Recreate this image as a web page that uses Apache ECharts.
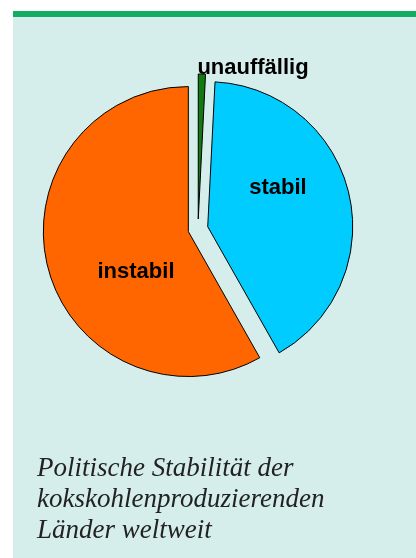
<!DOCTYPE html>
<html>
<head>
<meta charset="utf-8">
<script src="https://cdn.jsdelivr.net/npm/echarts@6/dist/echarts.min.js"></script>
<style>
html,body{margin:0;padding:0;background:#fff;}
#c{width:416px;height:558px;}
</style>
</head>
<body>
<div id="c"></div>
<script>
// Data
var categories = ['unauffällig', 'stabil', 'instabil'];
var values = [0.8, 41, 58.2];
var colors = ['#117a11', '#00ccff', '#ff6600'];
var caption = 'Politische Stabilität der\nkokskohlenproduzierenden\nLänder weltweit';

// label placement (layout only)
var labelPos = [[253, 68], [278, 188], [136, 272]];

var chart = echarts.init(document.getElementById('c'), null, {renderer: 'canvas'});
var data = categories.map(function (n, i) {
  return { name: n, value: values[i], selected: true, itemStyle: { color: colors[i] } };
});
var labelGraphics = categories.map(function (n, i) {
  return {
    type: 'text',
    x: labelPos[i][0],
    y: labelPos[i][1],
    z: 100,
    style: {
      text: n,
      fill: '#000000',
      font: 'bold 22px "Liberation Sans", Arial, sans-serif',
      textAlign: 'center',
      textVerticalAlign: 'middle'
    }
  };
});
chart.setOption({
  animation: false,
  backgroundColor: '#ffffff',
  graphic: [
    { type: 'rect', left: 13, top: 17, shape: { width: 403, height: 541 }, style: { fill: '#d6eeeb' }, z: -10 },
    { type: 'rect', left: 13, top: 11, shape: { width: 403, height: 6 }, style: { fill: '#12ad60' }, z: -10 }
  ].concat(labelGraphics),
  title: {
    text: caption,
    left: 32,
    top: 448,
    textStyle: {
      fontFamily: 'Liberation Serif',
      fontStyle: 'italic',
      fontWeight: 'normal',
      fontSize: 27,
      lineHeight: 31,
      color: '#222222'
    }
  },
  series: [{
    type: 'pie',
    center: [198, 229],
    radius: [0, 145],
    startAngle: 90,
    clockwise: true,
    selectedMode: 'multiple',
    selectedOffset: 10,
    avoidLabelOverlap: false,
    emphasis: { disabled: true },
    itemStyle: { borderColor: '#000000', borderWidth: 1 },
    label: { show: false },
    labelLine: { show: false },
    data: data
  }]
});
</script>
</body>
</html>
